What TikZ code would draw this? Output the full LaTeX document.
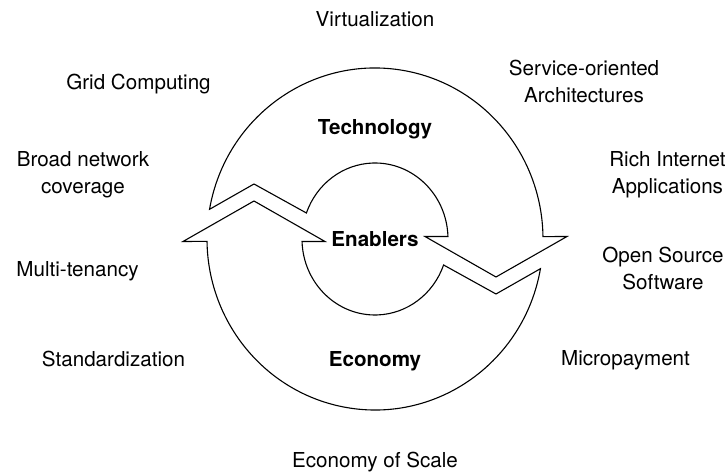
\documentclass[tikz,border=0pt]{standalone}
\usepackage{fontspec}
\setmainfont{TeX Gyre Heros}

\tikzset{
  lbl/.style={anchor=base, align=center, inner sep=0pt, font=\fontsize{10.3bp}{13.8bp}\selectfont},
  hdr/.style={lbl, font=\fontsize{10.3bp}{13.8bp}\selectfont\bfseries},
  cyclearrow/.style={draw=black, fill=white, line width=0.55bp, line join=miter}
}

\begin{document}
\begin{tikzpicture}[x=0.5bp, y=0.5bp]

  \useasboundingbox (-375, 239) rectangle (353, -234);

  % upper arrow: technology
  \filldraw[cyclearrow] (170:168 and 171) arc[start angle=170, end angle=0.8, x radius=168, y radius=171]
    -- (192, 2.5) -- (121, -38) -- (50, 2.5)
    -- (1.9:73 and 76) arc[start angle=1.9, end angle=160, x radius=73, y radius=76]
    -- (-121, 55) -- cycle;

  % lower arrow: economy
  \filldraw[cyclearrow] (-10:168 and 171) arc[start angle=-10, end angle=-179.2, x radius=168, y radius=171]
    -- (-192, -2.5) -- (-121, 38) -- (-50, -2.5)
    -- (181.9:73 and 76) arc[start angle=181.9, end angle=340, x radius=73, y radius=76]
    -- (121, -55) -- cycle;

  \node[hdr] (tech) at (0, 104) {Technology};
  \node[hdr] (enab) at (0, -8) {Enablers};
  \node[hdr] (econ) at (0, -128) {Economy};

  % base of a two-line node sits on its last line
  \node[lbl] (virt) at (0, 212) {Virtualization};
  \node[lbl] (grid) at (-236.5, 149) {Grid Computing};
  \node[lbl] (soa) at (209, 136) {Service-oriented\\Architectures};
  \node[lbl] (broad) at (-292, 45) {Broad network\\coverage};
  \node[lbl] (ria) at (292.5, 45) {Rich Internet\\Applications};
  \node[lbl] (multi) at (-297.5, -38) {Multi-tenancy};
  \node[lbl] (oss) at (288, -51) {Open Source\\Software};
  \node[lbl] (std) at (-261.5, -128) {Standardization};
  \node[lbl] (micro) at (250.5, -127) {Micropayment};
  \node[lbl] (scale) at (0, -228.5) {Economy of Scale};

\end{tikzpicture}
\end{document}
